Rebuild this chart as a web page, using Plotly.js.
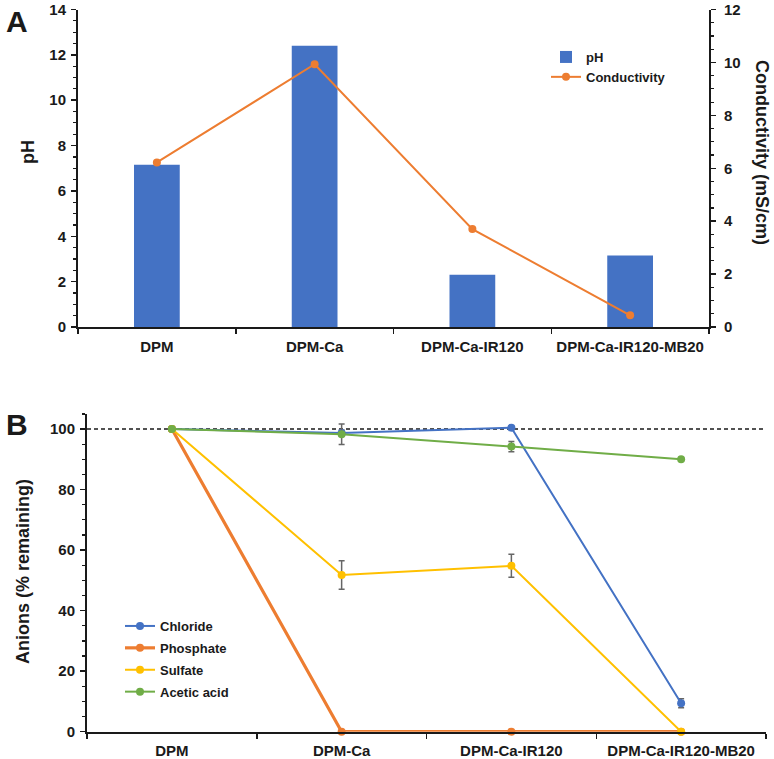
<!DOCTYPE html>
<html>
<head>
<meta charset="utf-8">
<script src="https://cdn.plot.ly/plotly-3.0.1.min.js"></script>
<style>html,body{margin:0;padding:0;background:#fff}#chart{width:774px;height:759px}</style>
</head>
<body>
<div id="chart"></div>
<script>
// ---- data ----
const categories = ["DPM", "DPM-Ca", "DPM-Ca-IR120", "DPM-Ca-IR120-MB20"];
const pH = [7.15, 12.4, 2.3, 3.15];
const conductivity = [6.22, 9.93, 3.70, 0.44];

const chloride = [100, 98.7, 100.4, 9.4];
const chlorideErr = [0, 1.0, 0.5, 1.5];
const phosphate = [100, 0, 0, 0];
const phosphateErr = [0, 0, 0, 0];
const sulfate = [100, 51.8, 54.8, 0];
const sulfateErr = [0, 4.7, 3.8, 0];
const aceticAcid = [100, 98.3, 94.2, 90.0];
const aceticAcidErr = [0, 3.4, 1.7, 0.5];

const yTicksA = [0, 2, 4, 6, 8, 10, 12, 14];
const yTicksA2 = [0, 2, 4, 6, 8, 10, 12];
const yTicksB = [0, 20, 40, 60, 80, 100];

// ---- styling ----
const FAM = "Liberation Sans, Arial, sans-serif";
const INK = "#1a1a1a";
const FONT = {family: FAM, size: 15, color: INK, weight: 700};
const blue = "#4472C4", orange = "#ED7D31", yellow = "#FFC000", green = "#70AD47";

function errBar(arr) {
  return {type: "data", array: arr, visible: true, color: "#666", thickness: 1.5, width: 3};
}

const traces = [
  {type: "bar", name: "pH", x: categories, y: pH, xaxis: "x", yaxis: "y",
   width: 0.29, marker: {color: blue}, legend: "legend"},
  {type: "scatter", mode: "lines+markers", name: "Conductivity", x: categories, y: conductivity,
   xaxis: "x", yaxis: "y2", line: {color: orange, width: 2}, marker: {color: orange, size: 8},
   legend: "legend"},

  {type: "scatter", mode: "lines+markers", name: "Chloride", x: categories, y: chloride,
   error_y: errBar(chlorideErr), xaxis: "x2", yaxis: "y3", legend: "legend2", legendgroup: "a",
   line: {color: blue, width: 2}, marker: {color: blue, size: 8}, cliponaxis: false},
  {type: "scatter", mode: "lines+markers", name: "Phosphate", x: categories, y: phosphate,
   error_y: errBar(phosphateErr), xaxis: "x2", yaxis: "y3", legend: "legend2", legendgroup: "b",
   line: {color: orange, width: 3.2}, marker: {color: orange, size: 8}, cliponaxis: false},
  {type: "scatter", mode: "lines+markers", name: "Sulfate", x: categories, y: sulfate,
   error_y: errBar(sulfateErr), xaxis: "x2", yaxis: "y3", legend: "legend2", legendgroup: "c",
   line: {color: yellow, width: 2}, marker: {color: yellow, size: 8}, cliponaxis: false},
  {type: "scatter", mode: "lines+markers", name: "Acetic acid", x: categories, y: aceticAcid,
   error_y: errBar(aceticAcidErr), xaxis: "x2", yaxis: "y3", legend: "legend2", legendgroup: "d",
   line: {color: green, width: 2}, marker: {color: green, size: 8}, cliponaxis: false}
];

const axisCommon = {
  showgrid: false, zeroline: false, showline: true, linecolor: INK, linewidth: 2,
  ticks: "outside", ticklen: 5, tickwidth: 1.5, tickcolor: INK,
  tickfont: FONT, fixedrange: true
};
const minorTicks = (d) => ({dtick: d, ticks: "outside", ticklen: 3, tickcolor: INK, tickwidth: 1.2});

const layout = {
  width: 774, height: 759,
  margin: {l: 0, r: 0, t: 0, b: 0},
  paper_bgcolor: "#fff", plot_bgcolor: "rgba(0,0,0,0)",
  font: FONT,
  showlegend: true,
  xaxis: Object.assign({}, axisCommon, {
    domain: [78/774, 709/774], anchor: "y", type: "category", range: [-0.5, 3.5],
    tickson: "boundaries", ticklabelstandoff: 5
  }),
  yaxis: Object.assign({}, axisCommon, {
    domain: [(759-327)/759, (759-9.5)/759], anchor: "x", range: [0, 14],
    tickvals: yTicksA, ticktext: yTicksA.map(String), ticklabelstandoff: 2,
    minor: minorTicks(0.5)
  }),
  yaxis2: Object.assign({}, axisCommon, {
    overlaying: "y", side: "right", anchor: "x", range: [0, 12],
    tickvals: yTicksA2, ticktext: yTicksA2.map(String), ticklabelstandoff: 5,
    minor: minorTicks(0.5)
  }),
  xaxis2: Object.assign({}, axisCommon, {
    domain: [87/774, 766/774], anchor: "y3", type: "category", range: [-0.5, 3.5],
    tickson: "boundaries", ticklabelstandoff: 4
  }),
  yaxis3: Object.assign({}, axisCommon, {
    domain: [(759-731.7)/759, (759-413.9)/759], anchor: "x2", range: [0, 105],
    tickvals: yTicksB, ticktext: yTicksB.map(String), ticklabelstandoff: 2,
    minor: minorTicks(5)
  }),
  legend: {
    x: 546/774, y: 1 - 42/759, xanchor: "left", yanchor: "top",
    bgcolor: "rgba(0,0,0,0)", font: {family: FAM, size: 13, color: INK, weight: 700},
    itemwidth: 30, traceorder: "normal"
  },
  legend2: {
    x: 120/774, y: 1 - 611/759, xanchor: "left", yanchor: "top",
    bgcolor: "rgba(0,0,0,0)", font: {family: FAM, size: 13, color: INK, weight: 700},
    itemwidth: 30, traceorder: "grouped", tracegroupgap: 2
  },
  shapes: [
    {type: "line", xref: "x2 domain", yref: "y3", x0: 0, x1: 1, y0: 100, y1: 100,
     line: {color: INK, width: 1.5, dash: "4px,3px"}, layer: "below"}
  ],
  annotations: [
    {text: "A", xref: "paper", yref: "paper", x: 4/774, y: 1 - 3/759, xanchor: "left", yanchor: "top",
     showarrow: false, font: {family: FAM, size: 30, color: INK, weight: 700}},
    {text: "B", xref: "paper", yref: "paper", x: 4/774, y: 1 - 406/759, xanchor: "left", yanchor: "top",
     showarrow: false, font: {family: FAM, size: 30, color: INK, weight: 700}},
    {text: "pH", xref: "paper", yref: "paper", x: 28/774, y: 1 - 152/759, textangle: -90,
     xanchor: "center", yanchor: "middle",
     showarrow: false, font: {family: FAM, size: 18, color: INK, weight: 700}},
    {text: "Conductivity (mS/cm)", xref: "paper", yref: "paper", x: 762/774, y: 1 - 152/759, textangle: 90,
     xanchor: "center", yanchor: "middle",
     showarrow: false, font: {family: FAM, size: 18, color: INK, weight: 700}},
    {text: "Anions (% remaining)", xref: "paper", yref: "paper", x: 23/774, y: 1 - 572/759, textangle: -90,
     xanchor: "center", yanchor: "middle",
     showarrow: false, font: {family: FAM, size: 18, color: INK, weight: 700}}
  ]
};

Plotly.newPlot("chart", traces, layout, {displayModeBar: false, staticPlot: true});
</script>
</body>
</html>
